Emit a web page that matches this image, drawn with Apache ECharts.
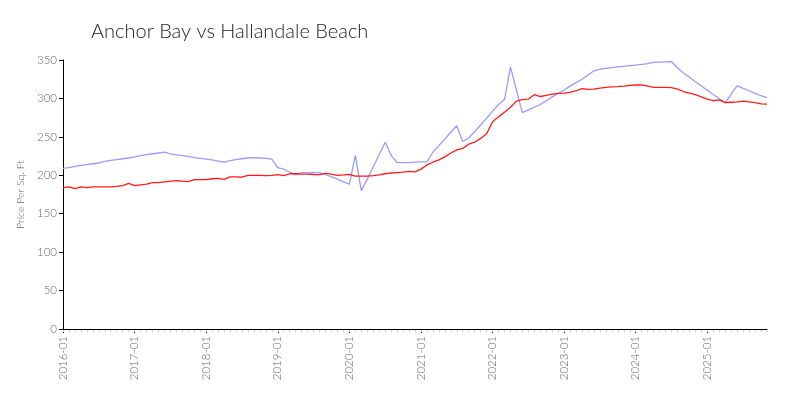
<!DOCTYPE html>
<html>
<head>
<meta charset="utf-8">
<script src="https://cdn.jsdelivr.net/npm/echarts@6/dist/echarts.min.js"></script>
<style>html,body{margin:0;padding:0;background:#fff}#c{width:800px;height:400px}</style>
</head>
<body>
<div id="c"></div>
<script>
const titleText = "Anchor Bay vs Hallandale Beach";
const yAxisName = "Price Per Sq. Ft";
const months = [];
for (let y = 2016; y <= 2025; y++) {
  for (let m = 1; m <= 12; m++) {
    if (y === 2025 && m > 11) break;
    months.push(y + "-" + (m < 10 ? "0" + m : "" + m));
  }
}
const anchorBay = [
  209,210,211.5,213,214,215,216,218,219.5,220.5,221.5,222.5,
  224,225.5,227,228,229,230,228,226.5,225.5,224.5,223,222,
  221,220,218.5,217,219,220.5,221.5,222.5,223,222.5,222,221,
  210,208,204,200.5,203.5,203.5,203.5,203.5,201,198,195,191.5,
  188.5,226,180,195,211,227,243,226,216.5,216.5,216.5,217,
  217.5,217.5,230,238.6,247.3,256,264.5,244,248.5,257,265.5,274,
  283.5,292,298.5,341,311,281.5,285,288.5,292,297,302,306.5,
  311,316,320.5,325,330.5,336,338,339,340,341,341.8,342.6,
  343.4,344.2,345.2,346.8,347.2,347.5,347.8,340,333,327.5,321.8,316.2,
  310.6,305,299.5,294.5,305.5,316.6,313,310,306.5,303.5,301
];
const hallandale = [
  184,185,182.6,185,184,185,185,185,185,185.5,186.5,189.5,
  186.5,187.5,188.5,190.4,190.4,191.5,192.5,193,192.5,191.7,194.3,194.3,
  194.3,195.5,196,194.7,198,198,197.7,200,200,199.8,199.6,200,
  200.8,199.5,202,202,201.5,201.5,201,200.8,202.5,201.5,200,200.5,
  201.3,199,199,199,199.5,200.5,202,203,203.5,204,205,204.5,
  208,213.5,217,220,224,229,233,235,240.5,243,248,254,
  269.5,276,282,288.5,296.5,298.5,299.2,304.9,302.5,304,305.5,306.6,
  306.8,308,310,312.7,311.8,312,313.5,314.5,315,315.3,316,317,
  317.5,317.5,316,314.5,314.5,314.5,314,312,309,307,305,302,
  299,297,298,294.5,295,295.5,296.6,295.5,294.5,293,292.7
];
const yTicks = { min: 0, max: 350, interval: 50 };

const font = "Lato, 'Open Sans', sans-serif";
const chart = echarts.init(document.getElementById('c'), null, { renderer: 'canvas' });
chart.setOption({
  animation: false,
  backgroundColor: '#fff',
  title: {
    text: titleText, left: 86, top: 17,
    textStyle: { fontFamily: font, fontWeight: 300, fontSize: 20, color: '#222' }
  },
  grid: { left: 63, right: 33, top: 60, bottom: 71, containLabel: false },
  xAxis: [{
    type: 'category', data: months, boundaryGap: false,
    axisLine: { lineStyle: { color: '#000', width: 1 } },
    axisTick: { interval: 11, length: 4, lineStyle: { color: '#000' } },
    axisLabel: { interval: 11, rotate: 90, fontFamily: font, fontWeight: 300, fontSize: 11.5, color: '#666', margin: 7 },
    splitLine: { show: false }
  }, {
    type: 'category', data: months, boundaryGap: false, position: 'bottom', offset: 1,
    axisLine: { show: false },
    axisTick: { interval: 0, length: 2, lineStyle: { color: '#cfcfcf' } },
    axisLabel: { show: false },
    splitLine: { show: false }
  }],
  yAxis: {
    type: 'value', min: yTicks.min, max: yTicks.max, interval: yTicks.interval,
    name: yAxisName, nameLocation: 'middle', nameGap: 29,
    nameTextStyle: { fontFamily: font, fontWeight: 300, fontSize: 10.5, color: '#666' },
    axisLine: { show: true, lineStyle: { color: '#000' } },
    axisTick: { show: true, length: 4, lineStyle: { color: '#000' } },
    axisLabel: { fontFamily: font, fontWeight: 300, fontSize: 11.5, color: '#666', margin: 6 },
    splitLine: { show: false }
  },
  series: [{
    name: 'Anchor Bay', type: 'line', data: anchorBay, showSymbol: false,
    lineStyle: { color: '#9a9aff', width: 1.3 }, itemStyle: { color: '#9a9aff' }, z: 2
  }, {
    name: 'Hallandale Beach', type: 'line', data: hallandale, showSymbol: false,
    lineStyle: { color: '#ff1a1a', width: 1.3 }, itemStyle: { color: '#ff1a1a' }, z: 3
  }]
});
</script>
</body>
</html>
